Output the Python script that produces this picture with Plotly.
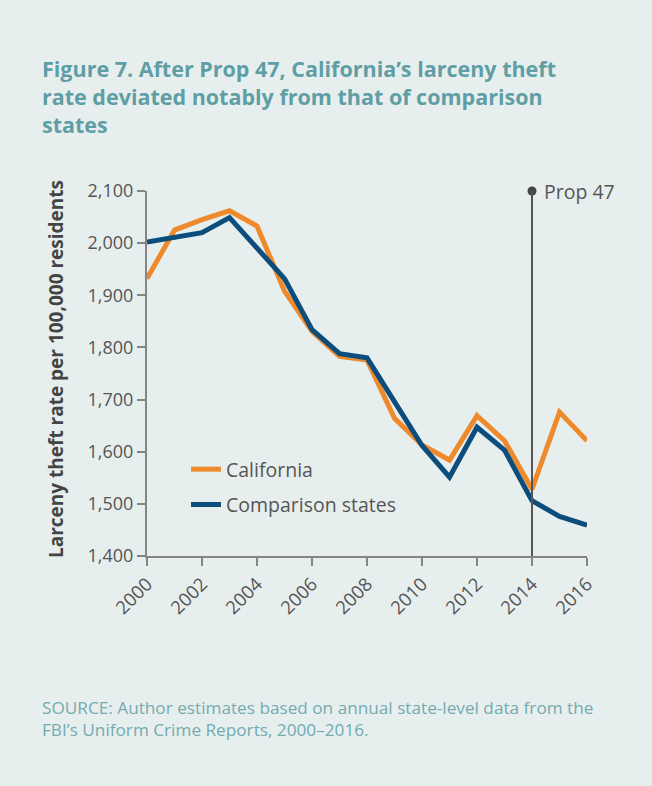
import plotly.graph_objects as go

years = list(range(2000, 2017))
california = [1932, 2025, 2045, 2062, 2033, 1908, 1831, 1783, 1776, 1664, 1613, 1584, 1669, 1621, 1528, 1676, 1621]
comparison = [2002, 2012, 2020, 2049, 1990, 1932, 1834, 1788, 1780, 1695, 1612, 1551, 1647, 1603, 1506, 1476, 1459]
series_names = ["California", "Comparison states"]
x_ticks = list(range(2000, 2017, 2))
y_ticks = [1400, 1500, 1600, 1700, 1800, 1900, 2000, 2100]
y_range = [1400, 2100]
prop47_year = 2014
prop47_label = "Prop 47"

title_text = ("Figure 7. After Prop 47, California’s larceny theft<br>"
              "rate deviated notably from that of comparison<br>states")
y_title = "Larceny theft rate per 100,000 residents"
source_text = ("SOURCE: Author estimates based on annual state-level data from the<br>"
               "FBI’s Uniform Crime Reports, 2000–2016.")

BG = "#e7efee"
ORANGE = "#ee8a2b"
BLUE = "#0c4d7c"
GREY = "#555555"
AXIS = "#858585"
TEAL = "#5f9ea4"
FONT = "Open Sans"

W, H = 652, 786
L, R, T, B = 147, 65, 191, 230
pw = W - L - R
ph = H - T - B

def px(x):
    return (x - L) / pw

def py(y):
    return (H - B - y) / ph

fig = go.Figure()
fig.add_trace(go.Scatter(x=years, y=california, mode="lines", name=series_names[0],
                         line=dict(color=ORANGE, width=5), legendgroup="a"))
fig.add_trace(go.Scatter(x=years, y=comparison, mode="lines", name=series_names[1],
                         line=dict(color=BLUE, width=5), legendgroup="b"))

fig.add_shape(type="line", xref="x", yref="y", x0=prop47_year, x1=prop47_year,
              y0=y_range[0], y1=y_range[1], line=dict(color=GREY, width=2), layer="above")
fig.add_trace(go.Scatter(x=[prop47_year], y=[y_range[1]], mode="markers",
                         marker=dict(color="#444444", size=9), showlegend=False,
                         cliponaxis=False, hoverinfo="skip"))
fig.add_annotation(x=prop47_year, y=y_range[1], xref="x", yref="y", text=prop47_label,
                   showarrow=False, xanchor="left", yanchor="middle", xshift=10,
                   font=dict(family=FONT, size=19.5, color=GREY))

fig.add_annotation(x=px(40), y=py(52), xref="paper", yref="paper", text=title_text,
                   showarrow=False, xanchor="left", yanchor="top", align="left",
                   font=dict(family=FONT, size=21.5, color=TEAL, weight="bold"))
fig.add_annotation(x=px(56), y=py(369), xref="paper", yref="paper", text=y_title,
                   showarrow=False, textangle=-90, xanchor="center", yanchor="middle",
                   font=dict(family=FONT, size=19, color="#444444", weight="bold"))
fig.add_annotation(x=px(40), y=py(694), xref="paper", yref="paper", text=source_text,
                   showarrow=False, xanchor="left", yanchor="top", align="left",
                   font=dict(family=FONT, size=17.2, color="#73abb0"))

fig.update_layout(
    width=W, height=H,
    margin=dict(l=L, r=R, t=T, b=B),
    paper_bgcolor=BG, plot_bgcolor=BG,
    showlegend=True,
    legend=dict(x=px(186), y=py(450), xanchor="left", yanchor="top",
                bgcolor="rgba(0,0,0,0)", tracegroupgap=7,
                font=dict(family=FONT, size=19.5, color=GREY)),
    font=dict(family=FONT, color=GREY),
)
fig.update_xaxes(range=[2000, 2016], tickvals=x_ticks, ticktext=[str(v) for v in x_ticks],
                 tickangle=-45, ticks="outside", ticklen=8, tickwidth=2, tickcolor=AXIS,
                 showline=True, linecolor=AXIS, linewidth=2, showgrid=False, zeroline=False,
                 tickfont=dict(family=FONT, size=18.5, color=GREY))
fig.update_yaxes(range=y_range, tickvals=y_ticks, tickformat=",d",
                 ticks="outside", ticklen=8, tickwidth=2, tickcolor=AXIS,
                 showline=True, linecolor=AXIS, linewidth=2, showgrid=False, zeroline=False,
                 tickfont=dict(family=FONT, size=18, color=GREY))

fig.write_html("out.html", config={"displayModeBar": False},
               post_script="document.body.style.margin='0';")
